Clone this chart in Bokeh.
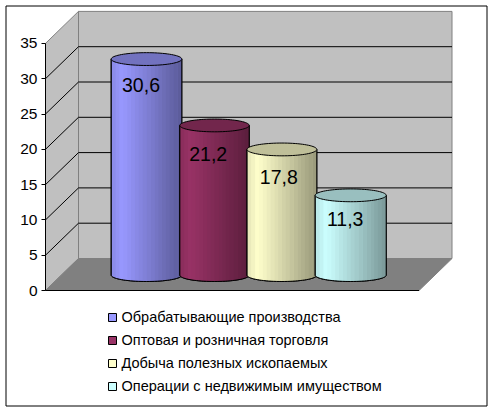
import numpy as np
from bokeh.plotting import figure
from bokeh.models import Range1d, LinearAxis, FixedTicker, Legend, LegendItem
from bokeh.core.properties import value
from bokeh.embed import file_html
from bokeh.resources import INLINE

categories = ["Обрабатывающие производства", "Оптовая и розничная торговля",
              "Добыча полезных ископаемых", "Операции с недвижимым имуществом"]
values = [30.6, 21.2, 17.8, 11.3]
labels = ["30,6", "21,2", "17,8", "11,3"]
colors = [(0x99, 0x99, 0xFF), (0x99, 0x33, 0x66), (0xFF, 0xFF, 0xCC), (0xCC, 0xFF, 0xFF)]
ticks = [0, 5, 10, 15, 20, 25, 30, 35]

W, H = 493, 411
Y0 = 290.0      # pixel of value 0
K = 7.06        # pixels per unit
def V(px):      # page pixel row -> value scale
    return (Y0 - px) / K

DX, DY = 33.0, 32.0 / K
X0, X1 = 45.0, 418.5
YMAX = 35
BASE = V(274.6)
RY = 6.4 / K
left = [110.7, 179.3, 246.5, 314.7]
right = [181.3, 248.7, 316.3, 385.7]
label_x = [140.5, 207.7, 278.3, 344.7]
label_y = [84.5, 153, 176, 218]

p = figure(width=W, height=H, output_backend="svg", toolbar_location=None,
           x_range=Range1d(0, W), y_range=Range1d(V(H), V(0)),
           x_axis_location=None, y_axis_location=None, min_border=0,
           outline_line_color=None, margin=(0, 0, 0, 0))
p.grid.visible = False

# outer frame
p.quad(left=5.5, right=486.5, top=V(5.5), bottom=V(405.5), fill_color="white", line_color="black", line_width=1)

# walls and floor
GRAY = "#808080"
p.patch([X0, X0 + DX, X0 + DX, X0], [0, DY, YMAX + DY, YMAX], fill_color="#C0C0C0", line_color=GRAY)
p.patch([X0 + DX, X1 + DX, X1 + DX, X0 + DX], [DY, DY, YMAX + DY, YMAX + DY], fill_color="#C0C0C0", line_color=GRAY)
p.patch([X0, X1, X1 + DX, X0 + DX], [0, 0, DY, DY], fill_color=GRAY, line_color=GRAY)

# gridlines
gl = [t for t in ticks if 0 < t < YMAX]
p.multi_line([[X0, X0 + DX, X1 + DX] for t in gl], [[t, t + DY, t + DY] for t in gl], line_color="black", line_width=1)
p.line([X0, X1], [0, 0], line_color="black", line_width=1)

# cylinders
items = []
theta = np.linspace(0, np.pi, 41)
for c, v, col, a, b in zip(categories, values, colors, left, right):
    cx, rx = (a + b) / 2, (b - a) / 2
    top = BASE + v
    arc_x = cx - rx * np.cos(theta)
    low = BASE - RY * np.sin(theta)
    sil = p.patch(list(arc_x) + [b, a], list(low) + [top, top], fill_color="#%02x%02x%02x" % col, line_color="black", line_width=1)
    items.append(LegendItem(label=c, renderers=[sil]))
    # vertical colour strips
    n = 18
    edges = np.linspace(a + .5, b - .5, n + 1)
    xs, ys, fs = [], [], []
    for i in range(n):
        t = (i + .5) / n
        s = 0.90 + t / 0.15 * 0.10 if t < 0.15 else 1.0 - (t - 0.15) / 0.85 * 0.40
        xx = np.linspace(edges[i], edges[i + 1] + .4, 4)
        lo = BASE - RY * np.sqrt(np.clip(1 - ((xx - cx) / rx) ** 2, 0, 1))
        xs.append(list(xx) + [xx[-1], xx[0]])
        ys.append(list(lo + .02) + [top, top])
        fs.append("#%02x%02x%02x" % tuple(int(q * s) for q in col))
    p.patches(xs, ys, fill_color=fs, line_color=None)
    # outline of side
    p.line(list(arc_x), list(low), line_color="black", line_width=1)
    p.line([a, a], [BASE, top], line_color="black", line_width=1)
    p.line([b, b], [BASE, top], line_color="black", line_width=1)
    # top cap
    t2 = np.linspace(0, 2 * np.pi, 81)
    p.patch(list(cx + rx * np.cos(t2)), list(top + RY * np.sin(t2)),
            fill_color="#%02x%02x%02x" % tuple(int(q * 0.75) for q in col), line_color="black", line_width=1)

p.text(label_x, [V(y) for y in label_y], text=labels, text_font=value("Liberation Sans"), text_font_size="19.5px",
       text_align="center", text_baseline="middle", text_color="black")

axis = LinearAxis(fixed_location=X0, ticker=FixedTicker(ticks=ticks), bounds=(0, YMAX),
                  axis_line_color="black", major_tick_line_color="black",
                  major_tick_in=0, major_tick_out=4, minor_tick_line_color=None,
                  major_label_text_font="Liberation Sans", major_label_text_font_size="15.5px",
                  major_label_text_color="black", major_label_standoff=4)
p.add_layout(axis, "left")

legend = Legend(items=items, location=(106.5, 16), orientation="vertical",
                background_fill_alpha=0, border_line_color=None,
                glyph_width=10, glyph_height=10, label_standoff=5, spacing=5, padding=0, margin=0,
                label_text_font="Liberation Sans", label_text_font_size="14.5px", label_height=18,
                label_text_color="black")
p.add_layout(legend, "center")

open("out.html", "w").write(file_html(p, INLINE))
